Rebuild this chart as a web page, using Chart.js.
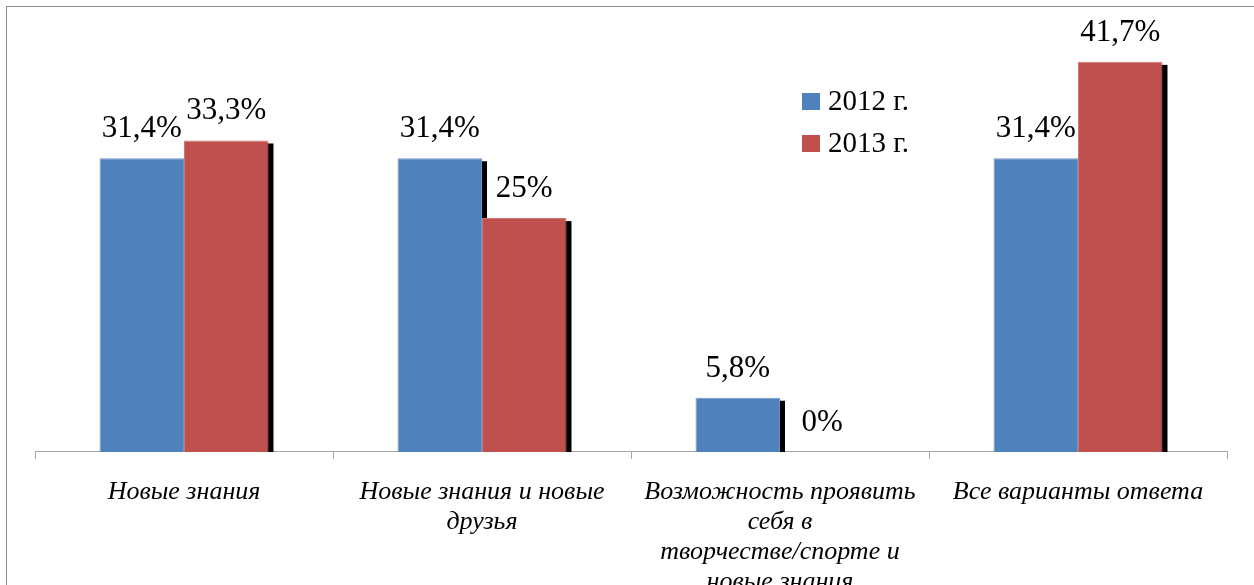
<!DOCTYPE html>
<html>
<head>
<meta charset="utf-8">
<script src="https://cdn.jsdelivr.net/npm/chart.js@4/dist/chart.umd.min.js"></script>
<style>
  html, body { margin: 0; padding: 0; background: #fff; overflow: hidden; }
  #frame { position: absolute; left: 6px; top: 6px; width: 1300px; height: 700px;
           border-left: 1px solid #8c8c8c; border-top: 1px solid #8c8c8c; }
  #myChart { position: absolute; left: 0; top: 0; }
</style>
</head>
<body>
<div id="frame"></div>
<canvas id="myChart" width="1254" height="615"></canvas>
<script>
// categories (multi-line, as in the picture)
const categories = [
  ['Новые знания'],
  ['Новые знания и новые', 'друзья'],
  ['Возможность проявить', 'себя в', 'творчестве/спорте и', 'новые знания'],
  ['Все варианты ответа']
];
const seriesNames = ['2012 г.', '2013 г.'];
const values2012 = [31.4, 31.4, 5.8, 31.4];
const values2013 = [33.3, 25, 0, 41.7];

const FONT = "'Liberation Serif', 'Times New Roman', serif";

// black shadow to the right of every bar (drawn before the bars)
const barShadow = {
  id: 'barShadow',
  beforeDatasetsDraw(chart) {
    const ctx = chart.ctx;
    const area = chart.chartArea;
    ctx.save();
    ctx.beginPath();
    ctx.rect(area.left, area.top, area.right - area.left, area.bottom - area.top);
    ctx.clip();
    ctx.fillStyle = '#000';
    chart.data.datasets.forEach((ds, i) => {
      const meta = chart.getDatasetMeta(i);
      meta.data.forEach(bar => {
        const p = bar.getProps(['x', 'y', 'base', 'width'], true);
        const h = p.base - p.y;
        if (h <= 0) return;
        ctx.fillRect(p.x - p.width / 2 + 5, p.y + 3, p.width, h);
      });
    });
    ctx.restore();
  }
};

// value labels above bars
const valueLabels = {
  id: 'valueLabels',
  afterDatasetsDraw(chart) {
    const ctx = chart.ctx;
    ctx.save();
    ctx.font = '31px ' + FONT;
    ctx.fillStyle = '#000';
    ctx.textAlign = 'center';
    ctx.textBaseline = 'alphabetic';
    chart.data.datasets.forEach((ds, i) => {
      const meta = chart.getDatasetMeta(i);
      meta.data.forEach((bar, j) => {
        const txt = String(ds.data[j]).replace('.', ',') + '%';
        ctx.fillText(txt, bar.x, bar.y - 21);
      });
    });
    ctx.restore();
  }
};

// legend inside the plot, like the original
const innerLegend = {
  id: 'innerLegend',
  afterDraw(chart) {
    const ctx = chart.ctx;
    ctx.save();
    ctx.font = '29px ' + FONT;
    ctx.textBaseline = 'alphabetic';
    ctx.textAlign = 'left';
    chart.data.datasets.forEach((ds, i) => {
      const y = 93 + i * 42;
      ctx.fillStyle = ds.backgroundColor;
      ctx.fillRect(802, y, 18, 17);
      ctx.fillStyle = '#000';
      ctx.fillText(ds.label, 828, y + 17);
    });
    ctx.restore();
  }
};

const ctx = document.getElementById('myChart');
const myChart = new Chart(ctx, {
  type: 'bar',
  data: {
    labels: categories,
    datasets: [
      { label: seriesNames[0], data: values2012, backgroundColor: '#4F81BD',
        borderColor: '#6F95C8', borderWidth: 1 },
      { label: seriesNames[1], data: values2013, backgroundColor: '#C0504D',
        borderColor: '#CC7774', borderWidth: 1 }
    ]
  },
  options: {
    responsive: false,
    animation: false,
    events: [],
    layout: { padding: { left: 35, right: 27, top: 31, bottom: 0 } },
    datasets: { bar: { barPercentage: 1, categoryPercentage: 0.567 } },
    plugins: {
      legend: { display: false },
      tooltip: { enabled: false }
    },
    scales: {
      x: {
        grid: { offset: true, drawOnChartArea: false, color: '#A6A6A6', tickLength: 7 },
        border: { color: '#A6A6A6', width: 1 },
        ticks: {
          color: '#000',
          autoSkip: false,
          maxRotation: 0,
          padding: 18,
          font: { family: FONT, size: 26, style: 'italic', lineHeight: 1.154 }
        }
      },
      y: {
        display: false,
        min: 0,
        max: 45
      }
    }
  },
  plugins: [barShadow, valueLabels, innerLegend]
});
</script>
</body>
</html>
